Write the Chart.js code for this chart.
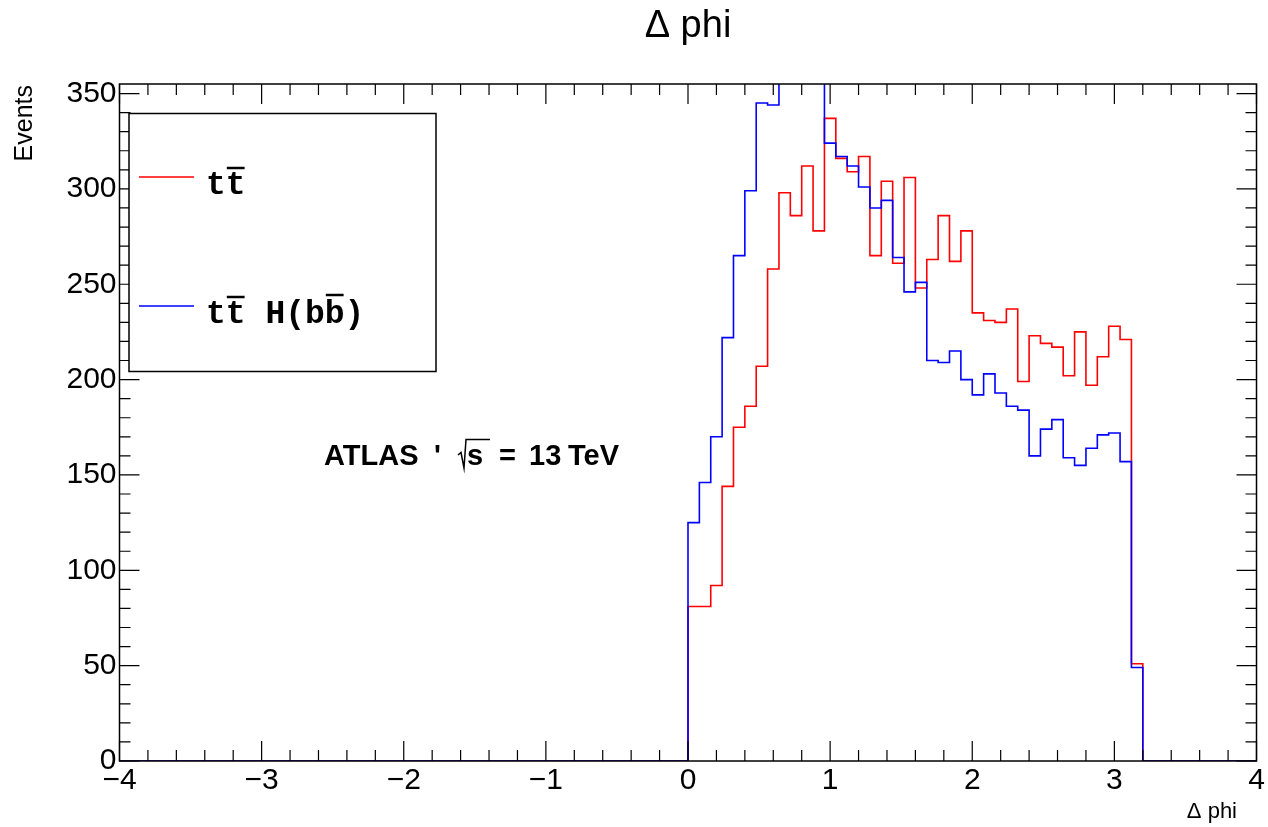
<!DOCTYPE html>
<html>
<head>
<meta charset="utf-8">
<script src="https://cdn.jsdelivr.net/npm/chart.js@4.4.0/dist/chart.umd.min.js"></script>
<style>
  body { margin: 0; background: #fff; }
  canvas { display: block; }
</style>
</head>
<body>
<canvas id="dphi" width="1268" height="827"></canvas>
<script>
// bin edges of the filled part (0 .. 3.2), histogram range is -4 .. 4
var binEdges = [0.00, 0.08, 0.16, 0.24, 0.32, 0.40, 0.48, 0.56, 0.64, 0.72,
                0.80, 0.88, 0.96, 1.04, 1.12, 1.20, 1.28, 1.36, 1.44, 1.52,
                1.60, 1.68, 1.76, 1.84, 1.92, 2.00, 2.08, 2.16, 2.24, 2.32,
                2.40, 2.48, 2.56, 2.64, 2.72, 2.80, 2.88, 2.96, 3.04, 3.12, 3.20];

var ttbar = [81, 81, 92, 144, 175, 186, 207, 258, 298, 286,
             312, 278, 337, 316, 309, 317, 265, 304, 261, 306,
             248, 263, 286, 262, 278, 235, 231, 230, 237, 199,
             223, 219, 217, 202, 225, 197, 212, 228, 221, 51];

var ttHbb = [125, 146, 170, 222, 265, 299, 345, 344, 368, 376,
             372, 362, 324, 317, 312, 301, 290, 294, 264, 246,
             251, 210, 209, 215, 200, 192, 203, 193, 186, 184,
             160, 174, 179, 159, 155, 164, 171, 172, 157, 49];

var xTicks = [-4, -3, -2, -1, 0, 1, 2, 3, 4];
var xTickLabels = ["\u22124", "\u22123", "\u22122", "\u22121", "0", "1", "2", "3", "4"];
var yTicks = [0, 50, 100, 150, 200, 250, 300, 350];
var yTickLabels = ["0", "50", "100", "150", "200", "250", "300", "350"];

// step outline like a ROOT histogram
function histPoints(values) {
    var pts = [{x: xTicks[0], y: 0}, {x: binEdges[0], y: 0}];
    for (var i = 0; i < values.length; i++) {
        pts.push({x: binEdges[i + 1], y: values[i]});
    }
    pts.push({x: xTicks[xTicks.length - 1], y: 0});
    return pts;
}

var rootFrame = {
    id: "rootFrame",
    afterDatasetsDraw: function (chart) {
        var ctx = chart.ctx, a = chart.chartArea;
        var xs = chart.scales.x, ys = chart.scales.y;
        var i, k, p, step;
        ctx.save();
        ctx.strokeStyle = "#000";
        ctx.lineWidth = 1.2;
        ctx.beginPath();
        for (i = 0; i < xTicks.length; i++) {
            p = xs.getPixelForValue(xTicks[i]);
            ctx.moveTo(p, a.bottom); ctx.lineTo(p, a.bottom - 20);
            ctx.moveTo(p, a.top); ctx.lineTo(p, a.top + 20);
            if (i < xTicks.length - 1) {
                step = (xTicks[i + 1] - xTicks[i]) / 5;
                for (k = 1; k < 5; k++) {
                    p = xs.getPixelForValue(xTicks[i] + k * step);
                    ctx.moveTo(p, a.bottom); ctx.lineTo(p, a.bottom - 11);
                    ctx.moveTo(p, a.top); ctx.lineTo(p, a.top + 11);
                }
            }
        }
        for (i = 0; i < yTicks.length; i++) {
            p = ys.getPixelForValue(yTicks[i]);
            ctx.moveTo(a.left, p); ctx.lineTo(a.left + 20, p);
            ctx.moveTo(a.right, p); ctx.lineTo(a.right - 20, p);
            step = 10;
            for (k = 1; k < 5; k++) {
                var v = yTicks[i] + k * step;
                if (v > ys.max) break;
                p = ys.getPixelForValue(v);
                ctx.moveTo(a.left, p); ctx.lineTo(a.left + 11, p);
                ctx.moveTo(a.right, p); ctx.lineTo(a.right - 11, p);
            }
        }
        ctx.stroke();
        ctx.lineWidth = 1.5;
        ctx.strokeRect(a.left, a.top, a.right - a.left, a.bottom - a.top);
        ctx.restore();
    },
    afterDraw: function (chart) {
        var ctx = chart.ctx;
        ctx.save();
        ctx.fillStyle = "#000";

        // axis titles
        ctx.font = '22px "Liberation Sans", Arial, sans-serif';
        ctx.textAlign = "right";
        ctx.textBaseline = "alphabetic";
        ctx.fillText("\u0394 phi", 1237, 818);
        ctx.save();
        ctx.translate(32, 85);
        ctx.rotate(-Math.PI / 2);
        ctx.font = '25px "Liberation Sans", Arial, sans-serif';
        ctx.textAlign = "right";
        ctx.fillText("Events", 0, 0);
        ctx.restore();

        // legend box
        ctx.fillStyle = "#fff";
        ctx.fillRect(129, 113.5, 307, 258);
        ctx.strokeStyle = "#000";
        ctx.lineWidth = 1.5;
        ctx.strokeRect(129, 113.5, 307, 258);
        var ds = chart.data.datasets;
        var rows = [177, 306];
        ctx.font = 'bold 33px "Liberation Mono", "DejaVu Sans Mono", monospace';
        ctx.textAlign = "left";
        for (var r = 0; r < ds.length; r++) {
            ctx.strokeStyle = ds[r].borderColor;
            ctx.lineWidth = 1.5;
            ctx.beginPath();
            ctx.moveTo(139, rows[r]); ctx.lineTo(194, rows[r]);
            ctx.stroke();
            ctx.fillStyle = "#000";
            var label = ds[r].label, x0 = 206, base = rows[r] + 17;
            ctx.fillText(label, x0, base);
            // overbars on the anti-quarks
            ctx.strokeStyle = "#000";
            ctx.lineWidth = 2.5;
            for (var c = 0; c < ds[r].bars.length; c++) {
                var idx = ds[r].bars[c];
                var bx = x0 + ctx.measureText(label.slice(0, idx)).width;
                var bw = ctx.measureText(label.charAt(idx)).width;
                var by = label.charAt(idx) === "b" ? base - 28 : base - 26;
                ctx.beginPath();
                ctx.moveTo(bx + 1, by); ctx.lineTo(bx + bw - 1, by);
                ctx.stroke();
            }
        }

        // ATLAS label
        ctx.fillStyle = "#000";
        ctx.textAlign = "left";
        ctx.font = 'bold 29px "Liberation Sans", Arial, sans-serif';
        ctx.fillText("ATLAS", 324, 465);
        ctx.fillText("'", 434, 465);
        ctx.fillText("s", 467, 465);
        ctx.fillText("=", 499, 465);
        ctx.fillText("13", 529, 465);
        ctx.fillText("TeV", 568, 465);
        // root sign with its bar
        ctx.strokeStyle = "#000";
        ctx.lineWidth = 1.5;
        ctx.beginPath();
        ctx.moveTo(458, 455); ctx.lineTo(461, 452.5);
        ctx.lineTo(464, 468); ctx.lineTo(466, 439.5);
        ctx.lineTo(490, 439.5);
        ctx.stroke();
        ctx.restore();
    }
};

Chart.defaults.font.family = '"Liberation Sans", Arial, sans-serif';
Chart.defaults.color = "#000";

var ctx = document.getElementById("dphi").getContext("2d");
var chart = new Chart(ctx, {
    type: "line",
    data: {
        datasets: [
            {
                label: "tt",
                bars: [1],
                data: histPoints(ttbar),
                borderColor: "rgb(255, 0, 0)",
                borderWidth: 1.6,
                stepped: "after",
                pointRadius: 0,
                fill: false,
                order: 1,
            },
            {
                label: "tt H(bb)",
                bars: [1, 6],
                data: histPoints(ttHbb),
                borderColor: "rgb(0, 0, 255)",
                borderWidth: 1.6,
                stepped: "after",
                pointRadius: 0,
                fill: false,
                order: 0,
            },
        ],
    },
    options: {
        responsive: false,
        animation: false,
        layout: { padding: { left: 0, right: 11.5, top: 0, bottom: 0 } },
        plugins: {
            legend: { display: false },
            tooltip: { enabled: false },
            title: {
                display: true,
                fullSize: false,
                text: "\u0394 phi",
                color: "#000",
                font: { size: 38, weight: "normal" },
                padding: { top: 4, bottom: 34.4 },
            },
        },
        scales: {
            x: {
                type: "linear",
                min: -4,
                max: 4,
                afterFit: function (s) { s.height = 66; },
                afterBuildTicks: function (s) {
                    s.ticks = xTicks.map(function (v) { return {value: v}; });
                },
                ticks: {
                    font: { size: 30 },
                    color: "#000",
                    padding: 2,
                    maxRotation: 0,
                    callback: function (v, i) { return xTickLabels[i]; },
                },
                grid: { display: false, drawTicks: false, tickLength: 0 },
                border: { display: false },
            },
            y: {
                min: 0,
                max: 355,
                afterFit: function (s) { s.width = 119.5; },
                afterBuildTicks: function (s) {
                    s.ticks = yTicks.map(function (v) { return {value: v}; });
                },
                ticks: {
                    font: { size: 30 },
                    color: "#000",
                    padding: 3,
                    callback: function (v, i) { return yTickLabels[i]; },
                },
                grid: { display: false, drawTicks: false, tickLength: 0 },
                border: { display: false },
            },
        },
    },
    plugins: [rootFrame],
});
</script>
</body>
</html>
